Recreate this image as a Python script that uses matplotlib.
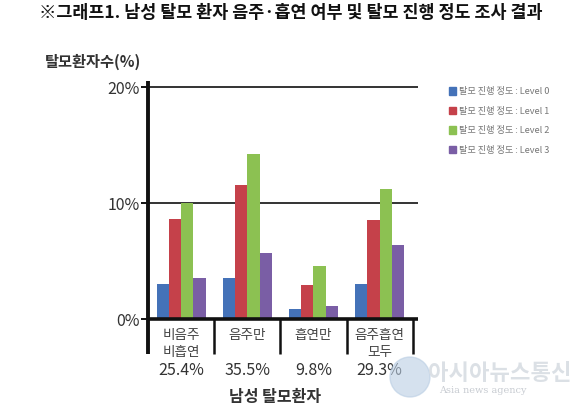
import matplotlib
matplotlib.use("Agg")
from matplotlib import pyplot as plt
from matplotlib.patches import Ellipse
import numpy as np

plt.rcParams['font.family'] = ['Noto Sans CJK KR', 'DejaVu Sans']

# data
groups = ['비음주\n비흡연', '음주만', '흡연만', '음주흡연\n모두']
shares = ['25.4%', '35.5%', '9.8%', '29.3%']
series = ['탈모 진행 정도 : Level 0', '탈모 진행 정도 : Level 1',
          '탈모 진행 정도 : Level 2', '탈모 진행 정도 : Level 3']
level0 = [3.0, 3.5, 0.9, 3.0]
level1 = [8.6, 11.55, 2.9, 8.5]
level2 = [10.0, 14.25, 4.6, 11.2]
level3 = [3.5, 5.7, 1.1, 6.35]
yticks = [0, 10, 20]
ytick_labels = ['0%', '10%', '20%']

colors = ['#4472b8', '#c5414a', '#8cc152', '#7a5ea5']

fig = plt.figure(figsize=(5.8, 4.06), dpi=100)
W, H = 580, 406
# axes: x 148..418 px, y 82..320 px
ax = fig.add_axes([148 / W, 1 - 320 / H, (418 - 148) / W, (320 - 82) / H])

x = np.arange(len(groups))
bw = 0.185
for i, vals in enumerate([level0, level1, level2, level3]):
    ax.bar(x + (i - 1.5) * bw, vals, bw, color=colors[i], label=series[i], zorder=3)

ax.set_xlim(-0.5, 3.58)
ax.set_ylim(0, 20.5)
for s in ax.spines.values():
    s.set_visible(False)

# grid lines
ax.hlines([10, 20], -0.5, 3.58, color='#333333', lw=1.4, zorder=2)
ax.hlines(0, -0.5, 3.58, color='#111111', lw=2.6, zorder=4, clip_on=False)
# y-axis and group separators extending below the axis
ax.vlines(-0.5, -3.0, 20.5, color='#111111', lw=2.8, zorder=4, clip_on=False)
ax.vlines([0.5, 1.5, 2.5, 3.5], -3.0, 0, color='#111111', lw=1.8, zorder=4, clip_on=False)

ax.set_yticks(yticks)
ax.set_yticklabels(ytick_labels, fontsize=11.5, color='#333333')
ax.tick_params(axis='y', length=5, width=1.4, color='#111111', pad=1)
ax.set_xticks([])

for xi, g, s in zip(x, groups, shares):
    ax.text(xi, -0.7, g, ha='center', va='top', fontsize=9.8, color='#444444',
            linespacing=1.25, clip_on=False)
    ax.text(xi, -3.6, s, ha='center', va='top', fontsize=11.5, color='#333333',
            clip_on=False)

fig.text(275 / W, 1 - 397 / H, '남성 탈모환자', ha='center', va='center',
         fontsize=11.5, fontweight='bold', color='#333333')
fig.text(45 / W, 1 - 62 / H, '탈모환자수(%)', ha='left', va='center',
         fontsize=11, fontweight='bold', color='#333333')
fig.text(291 / W, 1 - 13 / H, '※그래프1. 남성 탈모 환자 음주·흡연 여부 및 탈모 진행 정도 조사 결과',
         ha='center', va='center', fontsize=12.5, fontweight='bold', color='#111111')

# legend
for i, name in enumerate(series):
    yy = 1 - (92 + i * 19.5) / H
    fig.patches.append(plt.Rectangle((449 / W, yy - 3.5 / H), 7 / W, 7 / H,
                                     transform=fig.transFigure, color=colors[i]))
    fig.text(459 / W, yy, name, ha='left', va='center', fontsize=6.6, color='#777777')

# watermark
fig.patches.append(Ellipse((410 / W, 1 - 378 / H), 40 / W, 40 / H, transform=fig.transFigure,
                           color='#b9cde3', alpha=0.6))
fig.text(500 / W, 1 - 374 / H, '아시아뉴스통신', ha='center', va='center',
         fontsize=16, fontweight='bold', color='#d8dde3', alpha=0.9)
fig.text(483 / W, 1 - 391 / H, 'Asia news agency', ha='center', va='center',
         fontsize=7, color='#c8ccd2', family='DejaVu Serif')

fig.savefig('out.png', dpi=100)
